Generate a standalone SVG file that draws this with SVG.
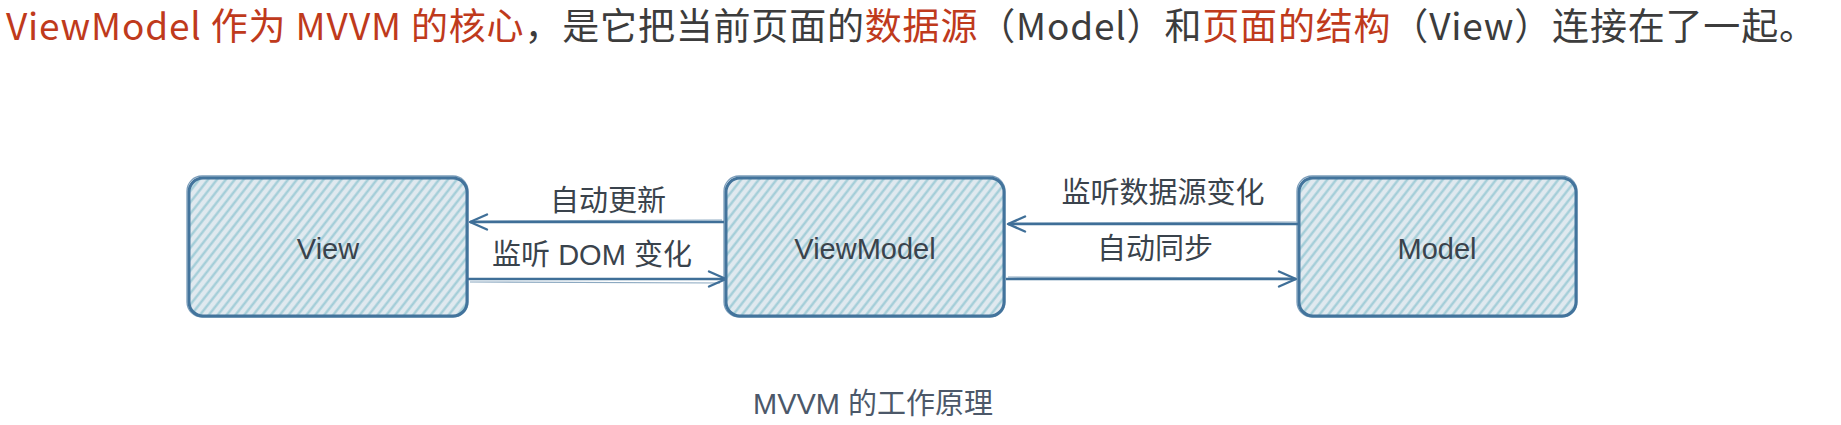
<svg xmlns="http://www.w3.org/2000/svg" width="1841" height="425" viewBox="0 0 1841 425">
  <style>
    .hdr { font-family: "Noto Sans CJK SC", "Noto Sans", sans-serif; font-size: 37px; fill: #3c3c3c; }
    .red { fill: #bf3a1c; }
    .box { fill: url(#hatch); stroke: #43749c; stroke-width: 3; }
    .box2 { fill: none; stroke: #43749c; stroke-width: 1.3; opacity: 0.7; }
    .nlabel { font-family: "Liberation Sans", "Noto Sans CJK SC", sans-serif; font-size: 29px; fill: #3a434c; text-anchor: middle; }
    .elabel { font-family: "Liberation Sans", "Noto Sans CJK SC", sans-serif; font-size: 29px; fill: #3a434c; text-anchor: middle; }
    .edge { stroke: #3f6f98; stroke-width: 2.6; fill: none; marker-end: url(#arrow); }
    .edge2 { stroke: #3f6f98; stroke-width: 1.2; fill: none; opacity: 0.6; }
    .cap { font-family: "Liberation Sans", "Noto Sans CJK SC", sans-serif; font-size: 29px; fill: #4c5869; text-anchor: middle; }
  </style>
  <defs>
    <pattern id="hatch" patternUnits="userSpaceOnUse" width="7" height="7" patternTransform="rotate(38)">
      <rect width="7" height="7" fill="#e0e9ef"/>
      <line x1="1.5" y1="0" x2="1.5" y2="7" stroke="#9ecbd6" stroke-width="2.2"/>
    </pattern>
    <marker id="arrow" viewBox="0 0 22 20" refX="20" refY="10" markerWidth="22" markerHeight="20" markerUnits="userSpaceOnUse" orient="auto">
      <path d="M3,2.5 L20,10 L3,17.5" fill="none" stroke="#3f6f98" stroke-width="2.4" stroke-linejoin="round" stroke-linecap="round"/>
    </marker>
  </defs>
  <rect width="1841" height="425" fill="#ffffff"/>

  <g id="header">
    <text class="hdr" x="6" y="40" textLength="1810" lengthAdjust="spacing"><tspan class="red">ViewModel 作为 MVVM 的核心</tspan>，是它把当前页面的<tspan class="red">数据源</tspan>（Model）和<tspan class="red">页面的结构</tspan>（View）连接在了一起。</text>
  </g>

  <g id="connectors">
    <line class="edge" x1="724" y1="222" x2="470" y2="222"/>
    <line class="edge2" x1="722" y1="220" x2="476" y2="221"/>
    <text class="elabel" x="608" y="211">自动更新</text>

    <line class="edge" x1="468" y1="279" x2="726" y2="279"/>
    <line class="edge2" x1="470" y1="282" x2="720" y2="283"/>
    <text class="elabel" x="592" y="265">监听 DOM 变化</text>

    <line class="edge" x1="1298" y1="224" x2="1008" y2="224"/>
    <line class="edge2" x1="1296" y1="222" x2="1014" y2="223"/>
    <text class="elabel" x="1163" y="203">监听数据源变化</text>

    <line class="edge" x1="1006" y1="279" x2="1296" y2="279"/>
    <line class="edge2" x1="1008" y1="277" x2="1290" y2="278"/>
    <text class="elabel" x="1155" y="259">自动同步</text>
  </g>

  <g id="node-view">
    <rect class="box" x="189" y="178" width="278" height="138" rx="14"/>
    <rect class="box2" x="187" y="176" width="281" height="141" rx="15"/>
    <text class="nlabel" x="328" y="259">View</text>
  </g>

  <g id="node-viewmodel">
    <rect class="box" x="726" y="178" width="278" height="138" rx="14"/>
    <rect class="box2" x="724" y="176" width="281" height="141" rx="15"/>
    <text class="nlabel" x="865" y="259">ViewModel</text>
  </g>

  <g id="node-model">
    <rect class="box" x="1299" y="178" width="277" height="138" rx="14"/>
    <rect class="box2" x="1297" y="176" width="280" height="141" rx="15"/>
    <text class="nlabel" x="1437" y="259">Model</text>
  </g>

  <g id="caption">
    <text class="cap" x="873" y="414">MVVM 的工作原理</text>
  </g>
</svg>
